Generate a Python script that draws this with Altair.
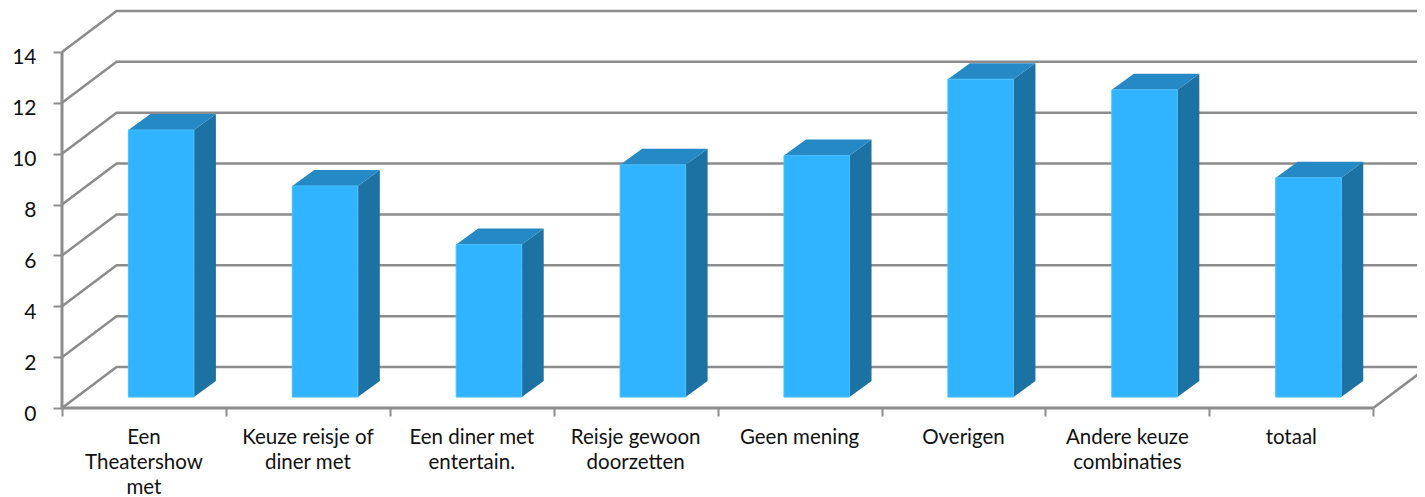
import altair as alt
import pandas as pd

categories = ["Een\nTheatershow\nmet", "Keuze reisje of\ndiner met", "Een diner met\nentertain.",
              "Reisje gewoon\ndoorzetten", "Geen mening", "Overigen",
              "Andere keuze\ncombinaties", "totaal"]
values = [10.5, 8.3, 6.0, 9.13, 9.5, 12.5, 12.08, 8.62]
y_ticks = [0, 2, 4, 6, 8, 10, 12, 14]
x_ticks = [0, 1, 2, 3, 4, 5, 6, 7, 8]

# Projection of the 3D box, in axis units
X_MAX = 8.267
Y_MAX = 15.61
WALL_DX = 0.333
WALL_DY = 1.61
BAR_START = 0.405
BAR_W = 0.4
BAR_DX = 0.134
BAR_DY = 0.63
BASE = 0.43

GRAY = "#8c8c8c"
FRONT = "#30b4ff"
TOP = "#2489c4"
SIDE = "#1c72a2"
FONT = "Lato"

x_scale = alt.Scale(domain=[0, X_MAX], nice=False, zero=False)
y_scale = alt.Scale(domain=[0, Y_MAX], nice=False, zero=False)

front_rows, top_rows, side_rows, label_rows = [], [], [], []
for i, (cat, v) in enumerate(zip(categories, values)):
    x0 = i + BAR_START
    x1 = x0 + BAR_W
    front_rows.append(dict(x=x0, x2=x1, y=BASE, y2=v + BASE))
    t = v + BASE
    for px, lo, hi in [(x0, t, t), (x0 + BAR_DX, t, t + BAR_DY),
                       (x1, t, t + BAR_DY), (x1 + BAR_DX, t + BAR_DY, t + BAR_DY)]:
        top_rows.append(dict(bar=i, x=px, y=lo, y2=hi))
    for px, lo, hi in [(x1, BASE, t), (x1 + BAR_DX, BASE + BAR_DY, t + BAR_DY)]:
        side_rows.append(dict(bar=i, x=px, y=lo, y2=hi))
    label_rows.append(dict(x=i + 0.5, y=-0.8, label=cat))

grid_rows = []
for v in y_ticks:
    for k, (px, py) in enumerate([(0, v), (WALL_DX, v + WALL_DY), (X_MAX, v + WALL_DY)]):
        grid_rows.append(dict(line=f"g{v}", k=k, x=px, y=py))
grid_rows += [dict(line="floor", k=0, x=8, y=0), dict(line="floor", k=1, x=8 + WALL_DX, y=WALL_DY)]

x_ax = alt.X("x:Q", scale=x_scale, title=None,
             axis=alt.Axis(values=x_ticks, labels=False, domain=False, grid=False,
                           tickSize=8, tickColor=GRAY, tickWidth=2))
y_ax = alt.Y("y:Q", scale=y_scale, title=None,
             axis=alt.Axis(values=y_ticks, domain=False, grid=False, tickSize=9, tickColor=GRAY,
                           tickWidth=2, labelFont=FONT, labelFontSize=21, labelColor="#111111",
                           labelPadding=17, labelBaseline="middle", labelOffset=6, format="d"))

grid = alt.Chart(pd.DataFrame(grid_rows)).mark_line(color=GRAY, strokeWidth=2.5, clip=False).encode(
    x=x_ax, y=y_ax, detail="line:N", order="k:Q")

side = alt.Chart(pd.DataFrame(side_rows)).mark_area(color=SIDE).encode(
    x=alt.X("x:Q", scale=x_scale), y=alt.Y("y:Q", scale=y_scale), y2="y2:Q", detail="bar:N")
top = alt.Chart(pd.DataFrame(top_rows)).mark_area(color=TOP).encode(
    x=alt.X("x:Q", scale=x_scale), y=alt.Y("y:Q", scale=y_scale), y2="y2:Q", detail="bar:N")
front = alt.Chart(pd.DataFrame(front_rows)).mark_rect(color=FRONT, stroke="#4bbdfb", strokeWidth=1).encode(
    x=alt.X("x:Q", scale=x_scale), x2="x2:Q", y=alt.Y("y:Q", scale=y_scale), y2="y2:Q")

axis_lines = pd.DataFrame([dict(x=0, x2=0, y=0, y2=14), dict(x=0, x2=8, y=0, y2=0)])
rules = alt.Chart(axis_lines).mark_rule(color=GRAY, strokeWidth=3).encode(
    x=alt.X("x:Q", scale=x_scale), x2="x2:Q", y=alt.Y("y:Q", scale=y_scale), y2="y2:Q")

labels = alt.Chart(pd.DataFrame(label_rows)).mark_text(
    font=FONT, fontSize=20.5, color="#111111", lineBreak="\n", lineHeight=25,
    baseline="top", align="center", clip=False).encode(
    x=alt.X("x:Q", scale=x_scale), y=alt.Y("y:Q", scale=y_scale), text="label:N")

chart = alt.layer(grid, side, top, front, rules, labels).properties(
    width=1355, height=397,
    autosize=alt.AutoSizeParams(type="none"),
    padding={"left": 54, "top": 3, "right": 0, "bottom": 89},
).configure_view(stroke=None)

chart.save("out.html", embed_options={"renderer": "svg", "actions": False})
